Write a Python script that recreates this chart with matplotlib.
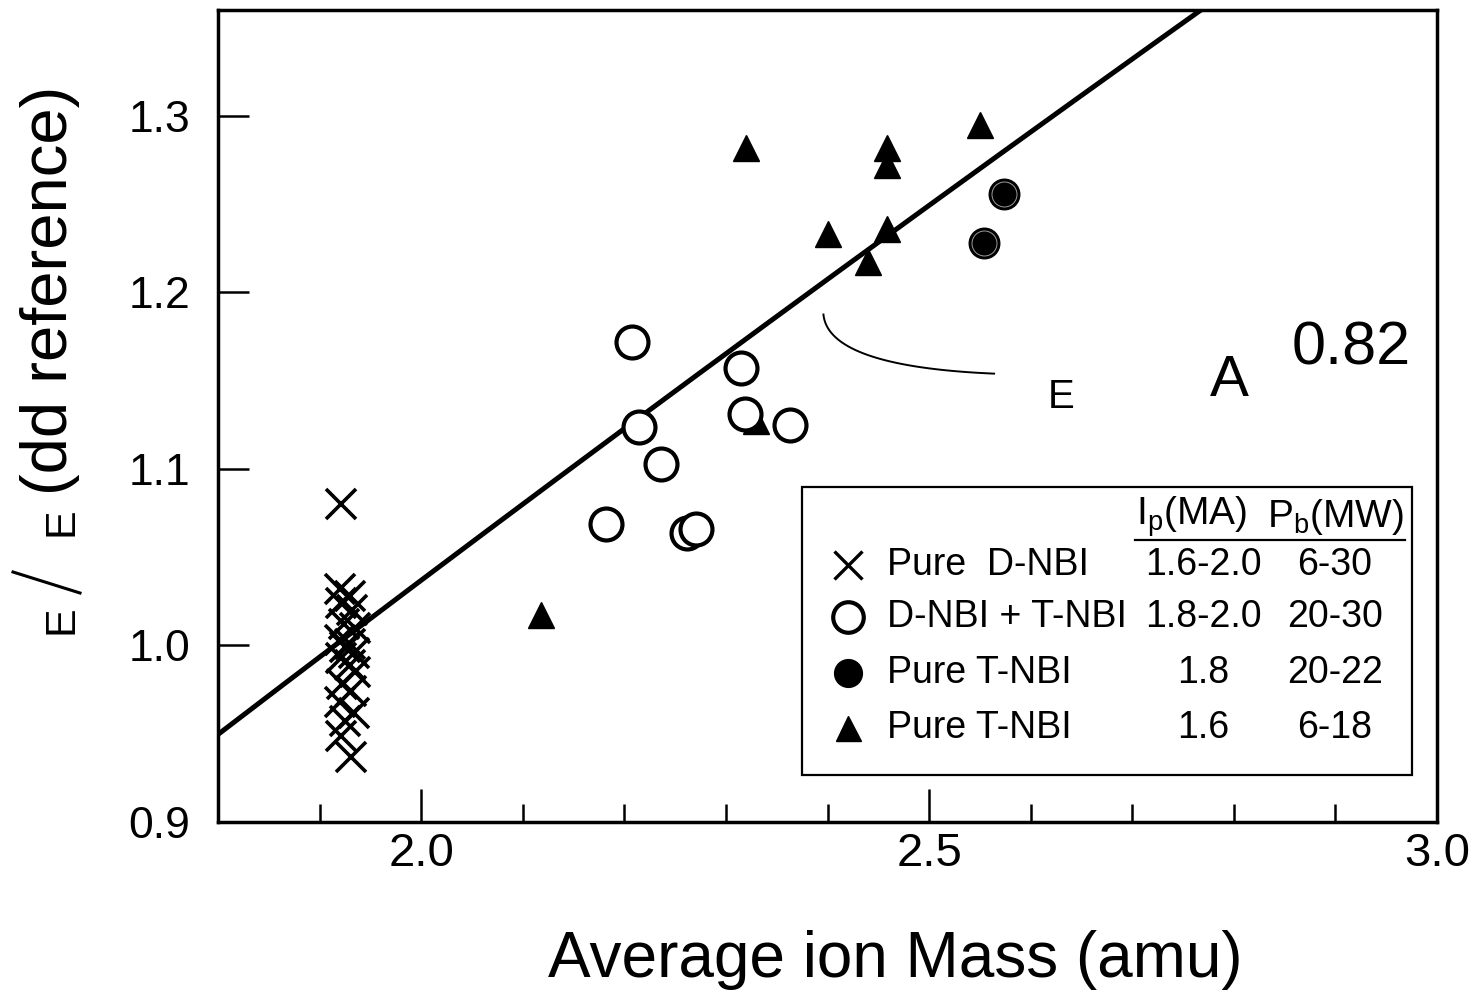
import numpy as np
import matplotlib
matplotlib.use("Agg")
import matplotlib.pyplot as plt
from matplotlib.lines import Line2D

plt.rcParams['font.family'] = ['Liberation Sans', 'DejaVu Sans']
plt.rcParams['mathtext.default'] = 'regular'

# Pure D-NBI (crosses)
d_mass = [1.921, 1.920, 1.930, 1.921, 1.932, 1.924, 1.935, 1.920, 1.930, 1.925,
          1.934, 1.921, 1.930, 1.935, 1.922, 1.931, 1.920, 1.934, 1.925, 1.921, 1.931]
d_tau = [1.080, 1.032, 1.028, 1.024, 1.020, 1.012, 1.010, 1.003, 1.001, 0.999,
         0.996, 0.993, 0.989, 0.985, 0.978, 0.974, 0.968, 0.962, 0.957, 0.949, 0.937]

# D-NBI + T-NBI (open circles)
dt_mass = [2.208, 2.214, 2.236, 2.182, 2.262, 2.271, 2.315, 2.319, 2.363]
dt_tau = [1.172, 1.124, 1.103, 1.069, 1.064, 1.066, 1.157, 1.131, 1.125]

# Pure T-NBI, 1.8 MA (filled circles)
t18_mass = [2.574, 2.554]
t18_tau = [1.256, 1.228]

# Pure T-NBI, 1.6 MA (triangles)
t16_mass = [2.320, 2.459, 2.459, 2.550, 2.400, 2.459, 2.440, 2.118, 2.330]
t16_tau = [1.282, 1.282, 1.272, 1.295, 1.233, 1.236, 1.217, 1.017, 1.127]

# scaling fit line as drawn, tau_E ~ A^0.82 normalised near the pure D mass
fit_exponent = 0.835
fit_ref_mass = 1.915
fit_mass = np.linspace(1.8, 2.8, 200)

legend_labels = ['Pure  D-NBI', 'D-NBI + T-NBI', 'Pure T-NBI', 'Pure T-NBI']
legend_ip = ['1.6-2.0', '1.8-2.0', '1.8', '1.6']
legend_pb = ['6-30', '20-30', '20-22', '6-18']

W, H = 1480, 992
fig = plt.figure(figsize=(14.8, 9.92), dpi=100)
ax = fig.add_axes([218 / W, (H - 822) / H, (1437 - 218) / W, (822 - 10) / H])

# fit line
ax.plot(fit_mass, (fit_mass / fit_ref_mass) ** fit_exponent, color='black', lw=3.6,
        solid_capstyle='round', zorder=2)

ax.plot(d_mass, d_tau, 'x', ms=22, mew=2.6, color='black', zorder=3)
ax.plot(dt_mass, dt_tau, 'o', ms=23, mew=3.0, mfc='white', mec='black', zorder=4)
ax.plot(t16_mass, t16_tau, '^', ms=19, color='black', zorder=3)
ax.plot(t18_mass, t18_tau, 'o', ms=22, mfc='black', mec='black', zorder=4)
ax.plot(t18_mass, t18_tau, 'o', ms=18, mfc='none', mec='#9a9a9a', mew=0.7, zorder=5)

ax.set_xlim(1.8, 3.0)
ax.set_ylim(0.9, 1.36)
ax.set_xticks([2.0, 2.5, 3.0])
ax.set_xticklabels(['2.0', '2.5', '3.0'])
ax.set_xticks([1.9, 2.1, 2.2, 2.3, 2.4, 2.6, 2.7, 2.8, 2.9], minor=True)
ax.set_yticks([0.9, 1.0, 1.1, 1.2, 1.3])
ax.set_yticklabels(['0.9', '1.0', '1.1', '1.2', '1.3'])
ax.tick_params(axis='x', which='major', direction='in', length=24, width=1.8,
               labelsize=34, pad=7)
ax.tick_params(axis='x', which='minor', direction='in', length=13, width=1.8)
ax.tick_params(axis='y', which='major', direction='in', length=22, width=1.8,
               labelsize=32, pad=20)
for sp in ax.spines.values():
    sp.set_linewidth(2.5)

# annotation of the fit
arc_start = (2.396, 1.1875)
arc_end = (2.564, 1.154)
t = np.linspace(0, 1, 60)
ctrl = (arc_start[0] + 0.005, arc_end[1] + 0.004)
bx = (1 - t) ** 2 * arc_start[0] + 2 * (1 - t) * t * ctrl[0] + t ** 2 * arc_end[0]
by = (1 - t) ** 2 * arc_start[1] + 2 * (1 - t) * t * ctrl[1] + t ** 2 * arc_end[1]
ax.plot(bx, by, color='black', lw=1.4)
ax.text(2.630, 1.141, 'E', fontsize=29, ha='center', va='center')
ax.text(2.7956, 1.150, 'A', fontsize=42, ha='center', va='center')
ax.text(2.916, 1.168, '0.82', fontsize=44, ha='center', va='center')

# legend table
def axx(px):
    return (px - 218) / 1219

def axy(py):
    return (822 - py) / 812

ax.add_patch(plt.Rectangle((axx(802), axy(775)), axx(1412) - axx(802), axy(487) - axy(775),
                           transform=ax.transAxes, fill=False, lw=1.6, ec='black', zorder=6))
ax.text(axx(1192), axy(517), 'I$_p$(MA)', transform=ax.transAxes, fontsize=28,
        ha='center', va='center')
ax.text(axx(1336), axy(517), 'P$_b$(MW)', transform=ax.transAxes, fontsize=28,
        ha='center', va='center')
ax.plot([axx(1135), axx(1405)], [axy(540), axy(540)], transform=ax.transAxes,
        color='black', lw=1.6)
row_y = [565, 617, 673, 728]
styles = [dict(marker='x', ms=20, mew=2.4, color='black'),
          dict(marker='o', ms=22, mew=3.0, mfc='white', mec='black'),
          dict(marker='o', ms=20, mfc='black', mec='black'),
          dict(marker='^', ms=18, color='black')]
for ry, lab, ip, pb, st in zip(row_y, legend_labels, legend_ip, legend_pb, styles):
    ax.plot([axx(848)], [axy(ry)], transform=ax.transAxes, ls='none', **st)
    ax.text(axx(887), axy(ry), lab, transform=ax.transAxes, fontsize=27,
            ha='left', va='center')
    ax.text(axx(1203), axy(ry), ip, transform=ax.transAxes, fontsize=27,
            ha='center', va='center')
    ax.text(axx(1335), axy(ry), pb, transform=ax.transAxes, fontsize=27,
            ha='center', va='center')

# axis labels
fig.text(895 / W, 1 - 960 / H, 'Average ion Mass (amu)', fontsize=46,
         ha='center', va='center')
fig.text(62 / W, 1 - 620 / H, 'E', fontsize=31, rotation=90, ha='center', va='center')
fig.lines.append(Line2D([13 / W, 80 / W], [1 - 572 / H, 1 - 593 / H],
                        transform=fig.transFigure, color='black', lw=2.2))
fig.text(62 / W, 1 - 522 / H, 'E', fontsize=31, rotation=90, ha='center', va='center')
fig.text(50 / W, 1 - 290 / H, '(dd reference)', fontsize=47, rotation=90,
         ha='center', va='center')

fig.savefig('out.png', dpi=100)
